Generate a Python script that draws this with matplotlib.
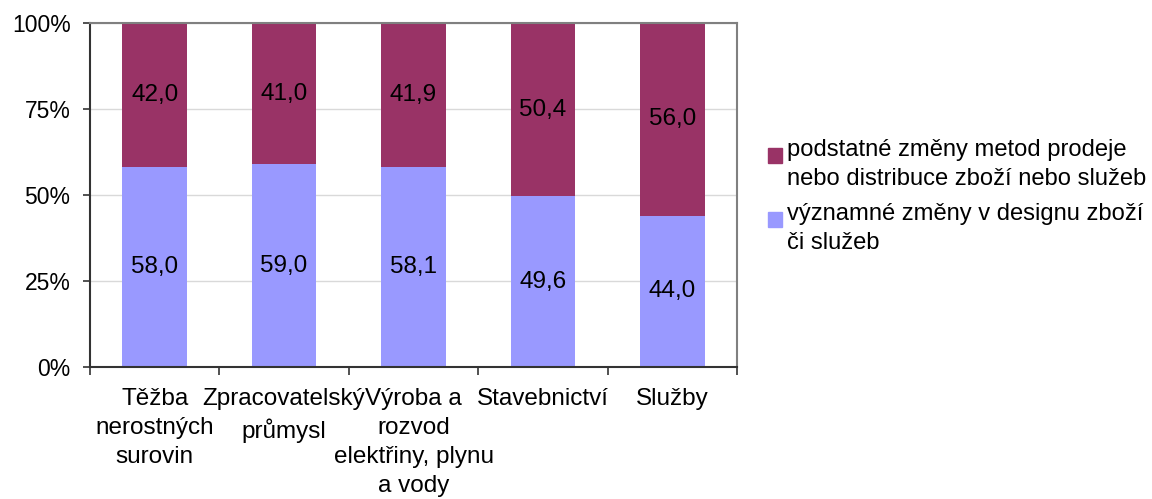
import numpy as np
import matplotlib.pyplot as plt
from matplotlib.patches import Rectangle
from matplotlib.ticker import FuncFormatter

plt.rcParams['font.family'] = ['Liberation Sans', 'DejaVu Sans']

categories = ["Těžba\nnerostných\nsurovin", "Zpracovatelský\nprůmysl",
              "Výroba a\nrozvod\nelektřiny, plynu\na vody", "Stavebnictví", "Služby"]
design = [58.0, 59.0, 58.1, 49.6, 44.0]
prodej = [42.0, 41.0, 41.9, 50.4, 56.0]
label_design = "významné změny v designu zboží\nči služeb"
label_prodej = "podstatné změny metod prodeje\nnebo distribuce zboží nebo služeb"

c_design = "#9999FF"
c_prodej = "#993366"
fs = 17.5

W, H = 1152, 499
fig = plt.figure(figsize=(W / 100, H / 100), dpi=100)
ax = fig.add_axes([90 / W, 1 - 367 / H, (737 - 90) / W, (367 - 23) / H])

x = np.arange(len(categories))
ax.bar(x, design, width=0.5, color=c_design, zorder=2)
ax.bar(x, prodej, width=0.5, bottom=design, color=c_prodej, zorder=2)

for i in range(len(x)):
    ax.text(x[i], design[i] / 2, f"{design[i]:.1f}".replace(".", ","),
            ha="center", va="center", fontsize=fs, color="black", zorder=3)
    ax.text(x[i], design[i] + prodej[i] / 2, f"{prodej[i]:.1f}".replace(".", ","),
            ha="center", va="center", fontsize=fs, color="black", zorder=3)

ax.set_xlim(-0.5, len(x) - 0.5)
ax.set_ylim(0, 100)
ax.set_yticks([0, 25, 50, 75, 100])
ax.yaxis.set_major_formatter(FuncFormatter(lambda v, p: f"{int(v)}%"))
ax.yaxis.grid(True, color="#D9D9D9", linewidth=1, zorder=0)

# ticks on category boundaries, labels in between
ax.set_xticks(np.arange(-0.5, len(x), 1.0))
ax.set_xticklabels([])
ax.set_xticks(x, minor=True)
ax.set_xticklabels(categories, minor=True, fontsize=fs, linespacing=1.42)
ax.tick_params(axis="x", which="minor", length=0, pad=15)
ax.tick_params(axis="x", which="major", length=6, width=1.2, color="#333333")
ax.tick_params(axis="y", length=5, width=1.2, color="#333333", labelsize=16.5, pad=9)

for s in ["left", "bottom"]:
    ax.spines[s].set_color("#333333")
    ax.spines[s].set_linewidth(1.5)
for s in ["top", "right"]:
    ax.spines[s].set_color("#808080")
    ax.spines[s].set_linewidth(1.5)

# legend drawn by hand: square beside the first line of each label
entries = [(c_prodej, label_prodej, 148), (c_design, label_design, 212)]
for col, lab, ytop in entries:
    fig.patches.append(Rectangle((768 / W, 1 - (ytop + 15) / H), 14 / W, 15 / H,
                                 transform=fig.transFigure, color=col, figure=fig))
    fig.text(787 / W, 1 - (ytop - 9) / H, lab, fontsize=17.1, va="top", ha="left",
             linespacing=1.4)

fig.savefig("out.png", dpi=100)
